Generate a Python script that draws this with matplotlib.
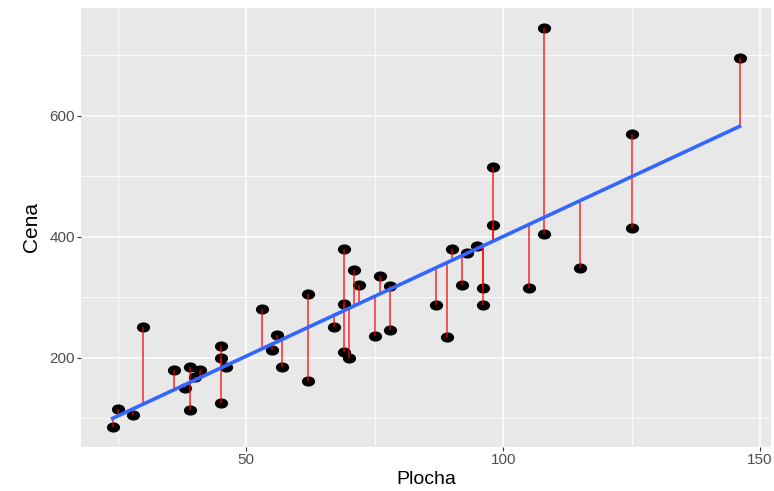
import numpy as np
import matplotlib
matplotlib.use("Agg")
import matplotlib.pyplot as plt
from matplotlib.path import Path
from matplotlib.transforms import Affine2D

# data
plocha = [24, 25, 28, 30, 36, 38, 39, 39, 40, 41, 45, 45, 45, 46, 53, 55, 56, 57,
          62, 62, 67, 69, 69, 69, 70, 71, 72, 75, 76, 78, 78, 87, 89, 90, 92, 93,
          95, 96, 96, 98, 98, 105, 108, 108, 115, 125, 125, 146]
cena = [86, 115, 106, 250, 180, 150, 185, 113, 168, 180, 220, 199, 125, 185, 280, 212, 238, 185,
        305, 162, 250, 380, 289, 210, 199, 345, 320, 236, 335, 318, 245, 287, 235, 380, 320, 373,
        385, 315, 287, 515, 420, 315, 745, 405, 348, 570, 415, 695]

x = np.array(plocha, dtype=float)
y = np.array(cena, dtype=float)

# linear fit (like geom_smooth(method="lm"))
slope, intercept = np.polyfit(x, y, 1)
fitted = intercept + slope * x

plt.rcParams["font.family"] = ["Liberation Sans", "DejaVu Sans"]

fig = plt.figure(figsize=(7.74, 4.91), dpi=100)
ax = fig.add_axes([0.105, 0.0902, 0.891, 0.894])
ax.set_facecolor("#E8E8E8")
for s in ax.spines.values():
    s.set_visible(False)

# slightly wide ellipse marker (the picture is stretched sideways)
ell = Path.unit_circle().transformed(Affine2D().scale(1.35, 1.0))

ax.plot(x, y, linestyle="none", marker=ell, markersize=8.5, color="black", zorder=3)
ax.vlines(x, y, fitted, colors="red", alpha=0.65, linewidth=1.4, zorder=4)
xs = np.array([x.min(), x.max()])
ax.plot(xs, intercept + slope * xs, color="#3366FF", linewidth=2.6, zorder=5)

# axis limits with ggplot style 5% expansion
xr = x.max() - x.min()
yr = y.max() - y.min()
ax.set_xlim(x.min() - 0.05 * xr, x.max() + 0.05 * xr)
ax.set_ylim(y.min() - 0.05 * yr, y.max() + 0.05 * yr)

ax.set_xticks([50, 100, 150])
ax.set_yticks([200, 400, 600])
ax.set_xticks([25, 75, 125], minor=True)
ax.set_yticks([100, 300, 500, 700], minor=True)
ax.grid(which="major", color="white", linewidth=1.1)
ax.grid(which="minor", color="white", linewidth=0.55)
ax.set_axisbelow(True)
ax.tick_params(which="major", length=2.75, width=0.8, color="#333333",
               labelcolor="#4D4D4D", labelsize=11, pad=2)
ax.tick_params(which="minor", length=0)

ax.set_xlabel("Plocha", fontsize=14, labelpad=3)
ax.set_ylabel("Cena", fontsize=15, labelpad=6)

fig.savefig("out.png", dpi=100)
